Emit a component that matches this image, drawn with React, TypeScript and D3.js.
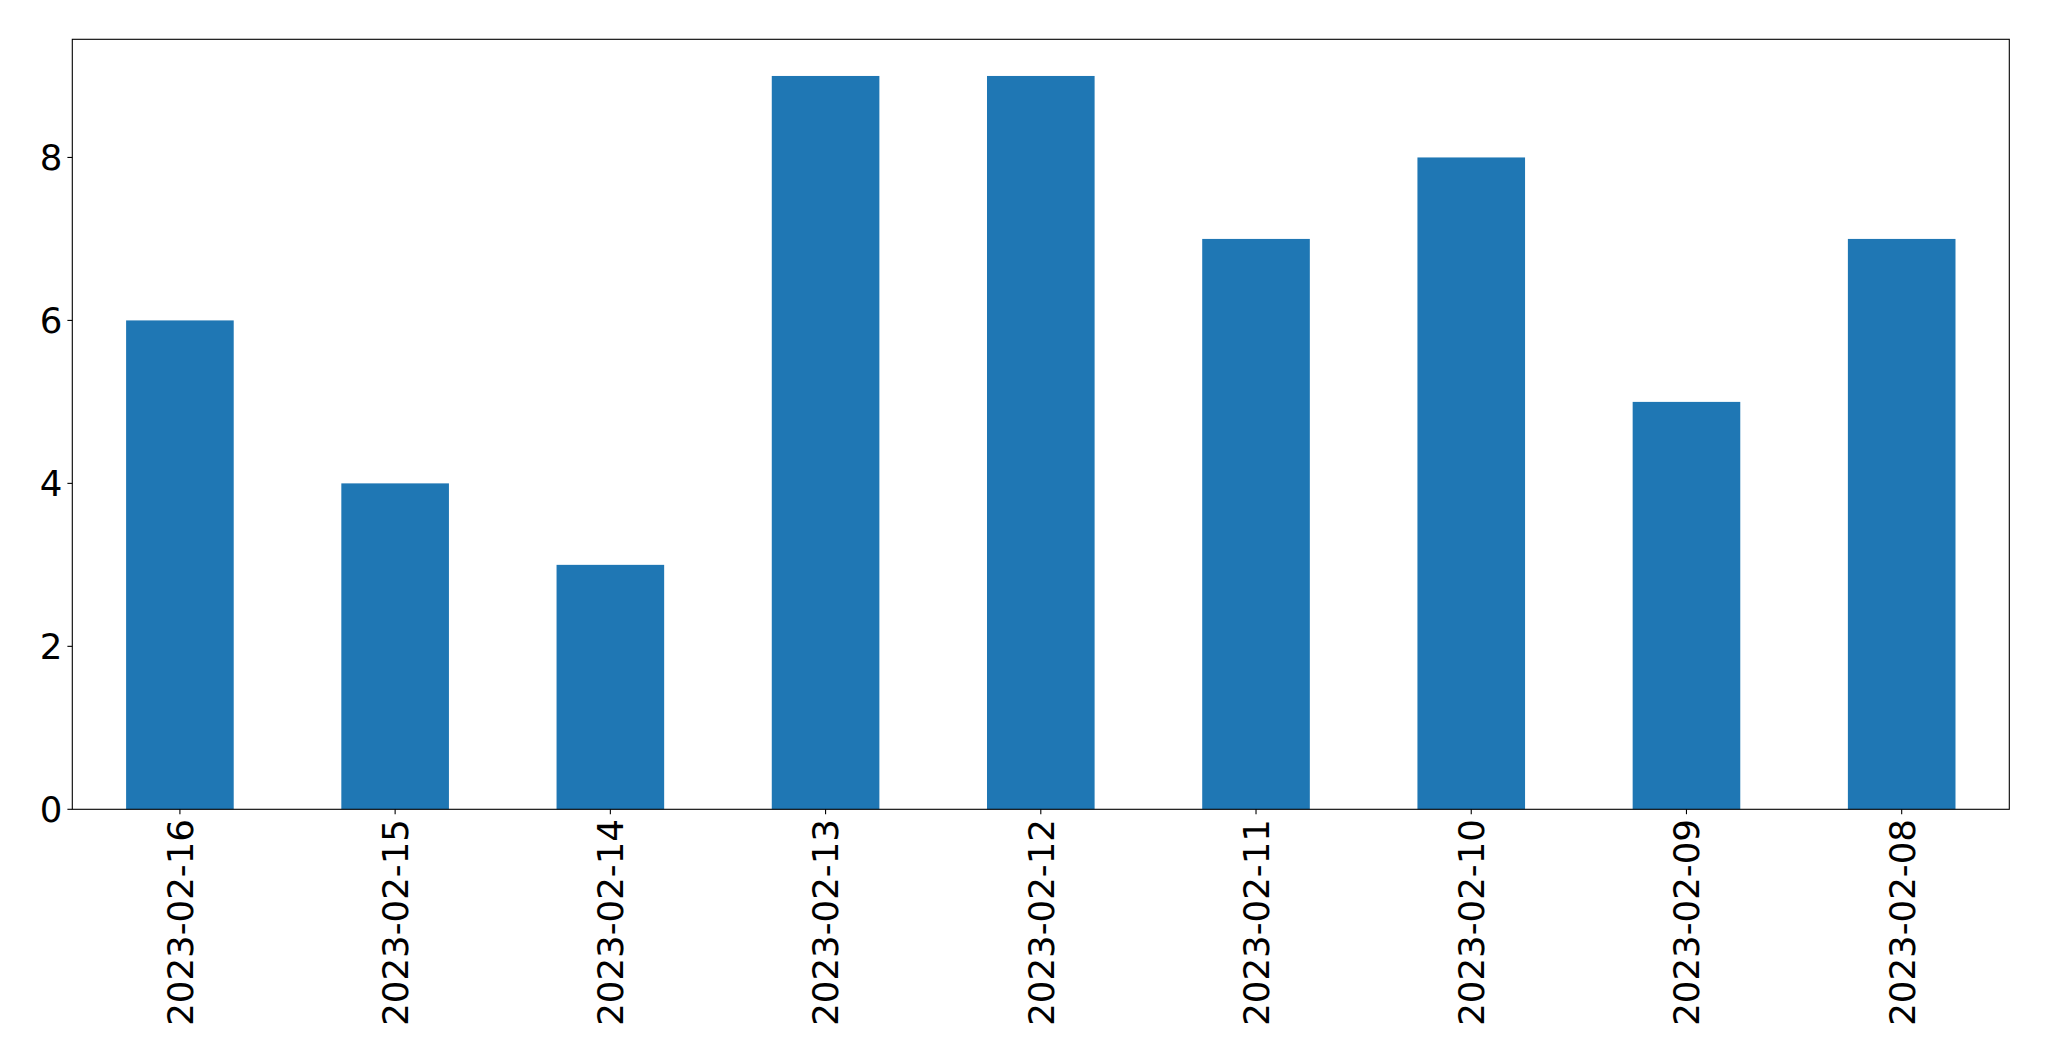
import React from "react";
import * as d3 from "d3";

const categories = ["2023-02-16", "2023-02-15", "2023-02-14", "2023-02-13", "2023-02-12", "2023-02-11", "2023-02-10", "2023-02-09", "2023-02-08"];
const values = [6, 4, 3, 9, 9, 7, 8, 5, 7];
const yTicks = [0, 2, 4, 6, 8];

const W = 2049;
const H = 1061;
const left = 72.3;
const right = 2009.3;
const top = 39.3;
const bottom = 809.3;
const fontSize = 35.6;

export default function App() {
  const x = d3.scaleLinear().domain([-0.5, categories.length - 0.5]).range([left, right]);
  const yMax = d3.max(values)! * 1.05;
  const y = d3.scaleLinear().domain([0, yMax]).range([bottom, top]);
  const bw = x(0.5) - x(0);
  const font = "DejaVu Sans, sans-serif";
  return (
    <svg width={W} height={H} style={{ position: "absolute", left: 0, top: 0, background: "#fff" }} fontFamily={font}>
      <rect x={0} y={0} width={W} height={H} fill="#fff" />
      {values.map((v, i) => (
        <rect key={i} x={x(i) - bw / 2} y={y(v)} width={bw} height={y(0) - y(v)} fill="#1f77b4" />
      ))}
      {yTicks.map((t) => (
        <g key={t}>
          <line x1={left - 4.9} x2={left} y1={y(t)} y2={y(t)} stroke="#000" strokeWidth={1.1} />
          <text x={left - 4.9 - 4.9} y={y(t)} dy="0.36em" textAnchor="end" fontSize={fontSize} fill="#000">{t}</text>
        </g>
      ))}
      {categories.map((c, i) => (
        <g key={c}>
          <line x1={x(i)} x2={x(i)} y1={bottom} y2={bottom + 4.9} stroke="#000" strokeWidth={1.1} />
          <text transform={`translate(${x(i)},${bottom + 4.9 + 4.9}) rotate(-90)`} dy="0.36em" textAnchor="end" fontSize={fontSize} fill="#000">{c}</text>
        </g>
      ))}
      <rect x={left} y={top} width={right - left} height={bottom - top} fill="none" stroke="#000" strokeWidth={1.1} />
    </svg>
  );
}
